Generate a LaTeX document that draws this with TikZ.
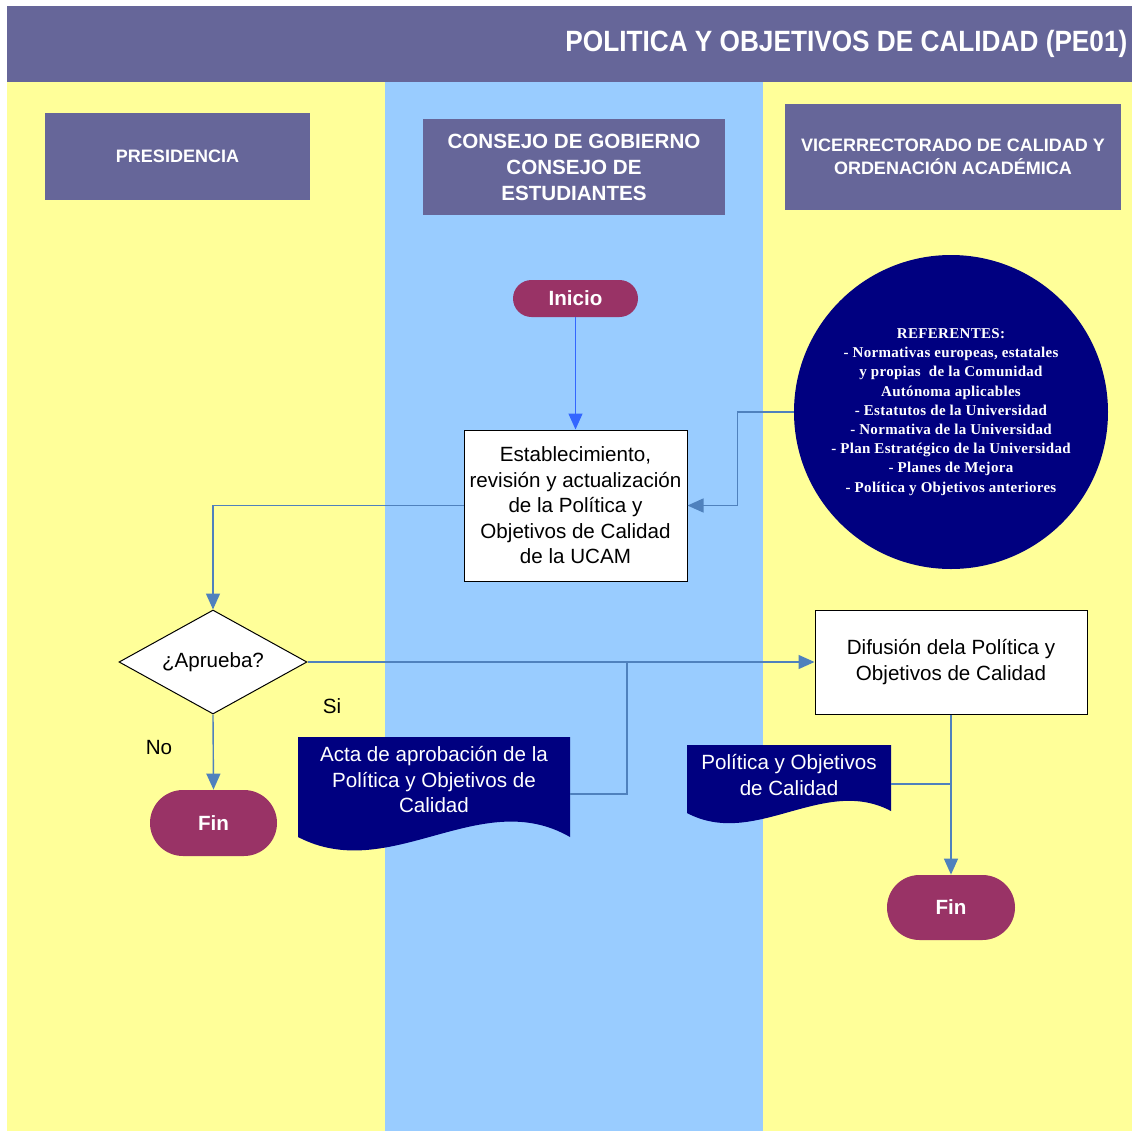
\documentclass[tikz,border=0pt]{standalone}
\usepackage{fontspec}
\setmainfont{Liberation Sans}
\newfontfamily\refserif[LetterSpace=2]{Liberation Serif}
\usetikzlibrary{shapes.geometric,shapes.misc,arrows.meta,calc}

\definecolor{laneyellow}{HTML}{FFFF99}
\definecolor{laneblue}{HTML}{99CCFF}
\definecolor{headviolet}{HTML}{666699}
\definecolor{termred}{HTML}{993366}
\definecolor{docnavy}{HTML}{000080}
\definecolor{flowline}{RGB}{79,129,189}
\definecolor{startline}{HTML}{3366FF}

\tikzset{
  lanehead/.style={fill=headviolet, text=white, font=\bfseries, align=center, inner sep=0pt},
  procbox/.style={draw=black, line width=0.5pt, fill=white, align=center, inner sep=0pt,
    font=\fontsize{10.3}{12.75}\selectfont},
  terminal/.style={rounded rectangle, fill=termred, text=white, inner sep=0pt,
    font=\fontsize{10.3}{12}\selectfont\bfseries},
  decision/.style={diamond, draw=black, line width=0.5pt, fill=white, aspect=1.8, inner sep=0pt,
    minimum width=94pt, minimum height=52pt, font=\fontsize{10.3}{12}\selectfont},
  doctext/.style={text=white, align=center, inner sep=0pt, font=\fontsize{10.3}{12.75}\selectfont},
  docshape/.style={fill=docnavy},
  plainlabel/.style={inner sep=0pt, font=\fontsize{10.3}{12}\selectfont},
  flow/.style={draw=flowline, line width=0.7pt},
  flowarrow/.style={flow, -{Triangle[length=8pt,width=7pt]}},
}

\begin{document}
\begin{tikzpicture}[x=0.5pt, y=-0.5pt]
  \useasboundingbox (0,0) rectangle (1132,1131);
  \fill[white] (0,0) rectangle (1132,1131);

  % swimlanes
  \fill[laneyellow] (7,82) rectangle (385,1131);
  \fill[laneblue]   (385,82) rectangle (763,1131);
  \fill[laneyellow] (763,82) rectangle (1132,1131);

  % title band
  \fill[headviolet] (7,6) rectangle (1132,82);
  \node[anchor=west, text=white, inner sep=0pt, font=\fontsize{13.1}{15}\selectfont\bfseries]
    (title) at (565,44) {\scalebox{1}[1.12]{POLITICA Y OBJETIVOS DE CALIDAD (PE01)}};

  % lane headers
  \node[lanehead, minimum width=132.5pt, minimum height=43.5pt, font=\fontsize{9}{11}\selectfont\bfseries]
    (pres) at (177.5,156.5) {PRESIDENCIA};
  \node[lanehead, minimum width=151pt, minimum height=48pt, font=\fontsize{10.3}{13}\selectfont\bfseries]
    (cons) at (574,167) {CONSEJO DE GOBIERNO\\CONSEJO DE\\ESTUDIANTES};
  \node[lanehead, minimum width=168pt, minimum height=53pt, font=\fontsize{9}{11.5}\selectfont\bfseries]
    (vice) at (953,157) {VICERRECTORADO DE CALIDAD Y\\ORDENACIÓN ACADÉMICA};

  % flow nodes
  \node[terminal, minimum width=62.5pt, minimum height=18.5pt] (inicio) at (575.5,298.5) {Inicio};
  \node[procbox, minimum width=111.5pt, minimum height=75.5pt] (proc) at (575.5,505.5)
    {Establecimiento,\\revisión y actualización\\de la Política y\\Objetivos de Calidad\\de la UCAM};
  \node[circle, fill=docnavy, text=white, minimum size=157pt, inner sep=0pt, align=center,
    font=\refserif\bfseries\fontsize{7.5}{9.6}\selectfont] (ref) at (951,412)
    {REFERENTES:\\- Normativas europeas, estatales\\y propias\ \ de la Comunidad\\Autónoma aplicables\\- Estatutos de la Universidad\\- Normativa de la Universidad\\- Plan Estratégico de la Universidad\\- Planes de Mejora\\- Política y Objetivos anteriores};
  \node[decision] (dec) at (213,662) {¿Aprueba?};
  \node[terminal, minimum width=63.5pt, minimum height=33pt] (fin1) at (213.5,823) {Fin};
  \node[procbox, minimum width=136pt, minimum height=52pt] (dif) at (951,662)
    {Difusión dela Política y\\Objetivos de Calidad};
  \node[terminal, minimum width=64pt, minimum height=32.5pt] (fin2) at (951,907.5) {Fin};

  % document shapes
  \fill[docshape] (298,737) -- (570,737) -- (570,837)
    .. controls (480,785) and (390,885) .. (298,837) -- cycle;
  \node[doctext] (acta) at (434,780) {Acta de aprobación de la\\Política y Objetivos de\\Calidad};
  \fill[docshape] (687,745) -- (891,745) -- (891,811)
    .. controls (823,775) and (755,849) .. (687,813) -- cycle;
  \node[doctext] (pol) at (789,775) {Política y Objetivos\\de Calidad};

  \node[plainlabel] (si) at (332,706) {Si};
  \node[plainlabel] (no) at (159,748) {No};

  % connector ends on the document shapes and junctions
  \coordinate (actaout) at (570,794);
  \coordinate (join1) at (627,662);
  \coordinate (polout) at (891,784);
  \coordinate (join2) at (951,784);

  % connectors
  \draw[flow, draw=startline, -{Triangle[length=8pt,width=7pt]}, startline] (inicio.south) -- (proc.north);
  \draw[flowarrow] (ref.west) -- ++(-56,0) |- (proc.east);
  \draw[flowarrow] (proc.west) -| (dec.north);
  \draw[flowarrow] (dec.east) -- (dif.west);
  \draw[flowarrow] (dec.south) -- (fin1.north);
  \draw[flowarrow] (dif.south) -- (fin2.north);
  \draw[flow] (actaout) -| (join1);
  \draw[flow] (polout) -- (join2);
\end{tikzpicture}
\end{document}
